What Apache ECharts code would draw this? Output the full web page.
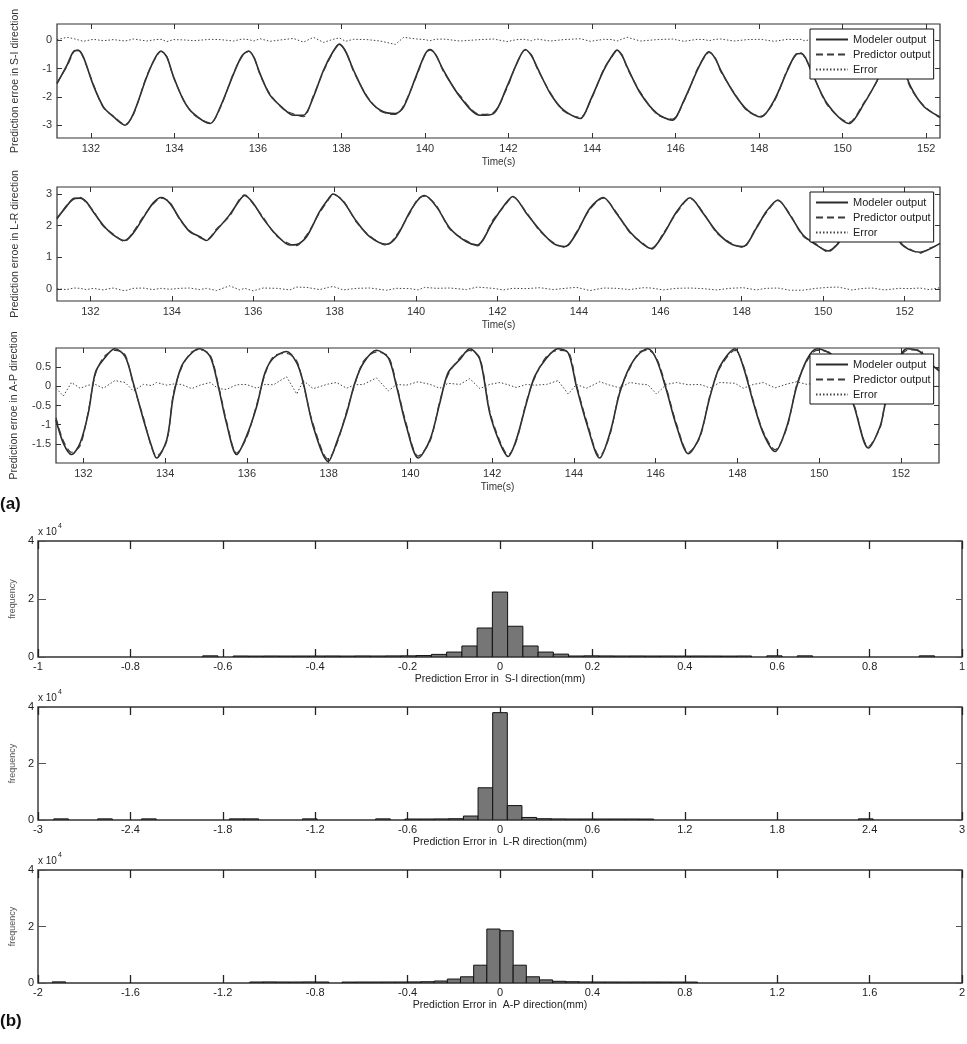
<!DOCTYPE html>
<html><head><meta charset="utf-8">
<script src="https://cdn.jsdelivr.net/npm/echarts@6/dist/echarts.min.js"></script>
<style>html,body{margin:0;padding:0;background:#fff}#c{width:967px;height:1044px}</style>
</head><body><div id="c"></div>
<script>
// ---------- Panel (a) data ----------
const seriesNames = ['Modeler output', 'Predictor output', 'Error'];
const timeTicks = [132,134,136,138,140,142,144,146,148,150,152];

const t1 = [131.19,131.43,131.6,131.7,131.82,132.06,132.3,132.54,132.82,133.02,
133.34,133.55,133.68,133.82,133.98,134.22,134.46,134.86,135.1,135.42,
135.62,135.78,135.9,136.05,136.29,136.61,136.85,137.09,137.33,137.57,
137.8,137.95,138.1,138.29,138.61,138.93,139.29,139.49,139.81,140.0,
140.12,140.25,140.44,140.84,141.32,141.64,141.96,142.2,142.4,142.55,
142.68,143.0,143.32,143.72,143.96,144.28,144.48,144.6,144.72,144.84,
145.16,145.56,145.92,146.2,146.52,146.7,146.8,146.95,147.08,147.4,
147.72,148.04,148.36,148.68,148.88,149.0,149.1,149.24,149.63,150.15,
150.51,150.87,151.1,151.23,151.38,151.63,151.95,152.33];
const modeler1 = [-1.53,-0.88,-0.38,-0.36,-0.59,-1.59,-2.35,-2.7,-3.0,-2.59,
-1.29,-0.6,-0.38,-0.6,-1.29,-2.12,-2.59,-2.94,-2.35,-1.18,
-0.55,-0.38,-0.6,-1.18,-1.94,-2.41,-2.65,-2.65,-2.0,-1.06,
-0.4,-0.14,-0.4,-1.06,-2.0,-2.47,-2.59,-2.35,-1.18,-0.5,
-0.33,-0.5,-1.06,-2.0,-2.65,-2.59,-1.65,-0.82,-0.33,-0.55,
-0.94,-1.88,-2.47,-2.76,-2.12,-1.06,-0.55,-0.35,-0.55,-0.94,
-1.88,-2.59,-2.82,-2.12,-1.06,-0.55,-0.41,-0.65,-1.06,-1.88,
-2.47,-2.71,-2.12,-1.06,-0.5,-0.47,-0.6,-1.06,-2.24,-2.94,
-2.24,-1.29,-0.5,-0.35,-0.7,-1.65,-2.35,-2.71];
const predictor1 = [-1.5,-0.92,-0.4,-0.35,-0.62,-1.55,-2.38,-2.68,-2.97,-2.62,
-1.25,-0.63,-0.4,-0.58,-1.32,-2.1,-2.62,-2.92,-2.38,-1.15,
-0.58,-0.4,-0.57,-1.22,-1.9,-2.44,-2.6,-2.7,-1.95,-1.1,
-0.43,-0.16,-0.38,-1.1,-1.97,-2.5,-2.62,-2.3,-1.22,-0.52,
-0.35,-0.48,-1.1,-1.96,-2.62,-2.55,-1.7,-0.8,-0.35,-0.52,
-0.98,-1.85,-2.5,-2.72,-2.16,-1.02,-0.58,-0.37,-0.52,-0.98,
-1.84,-2.62,-2.78,-2.16,-1.02,-0.58,-0.43,-0.62,-1.1,-1.85,
-2.5,-2.68,-2.16,-1.02,-0.53,-0.45,-0.63,-1.02,-2.28,-2.9,
-2.2,-1.33,-0.53,-0.37,-0.67,-1.7,-2.32,-2.74];
const error1 = [0.02,0.1,0.05,0.01,-0.04,0.03,-0.02,0.02,-0.03,0.04,
-0.03,0.02,0.03,-0.05,0.02,0.01,-0.02,0.03,0.02,-0.03,
0.04,0.02,-0.03,0.05,-0.04,0.02,0.06,-0.07,0.1,-0.08,
0.03,0.08,-0.04,0.03,0.02,-0.03,-0.15,0.1,0.04,0.02,
-0.02,0.03,0.04,-0.03,0.02,0.04,-0.05,0.02,0.03,-0.02,
0.04,-0.03,0.02,0.05,-0.04,0.03,0.02,-0.03,0.04,0.1,
-0.03,0.02,0.04,-0.04,0.03,0.02,-0.02,0.03,0.04,-0.03,
0.02,0.03,-0.04,0.03,0.02,0.03,-0.03,0.04,-0.04,0.03,
0.02,-0.03,0.04,0.02,-0.03,0.03,0.02,-0.02];

const t2 = [131.18,131.41,131.6,131.75,131.9,132.07,132.31,132.56,132.84,133.05,
133.29,133.54,133.74,133.95,134.19,134.44,134.69,134.85,135.1,135.42,
135.67,135.79,136.0,136.24,136.57,136.9,137.06,137.31,137.63,137.85,
137.96,138.21,138.54,138.86,139.27,139.52,139.85,140.05,140.21,140.5,
140.83,141.24,141.5,141.89,142.14,142.38,142.71,143.04,143.37,143.66,
143.94,144.27,144.6,144.92,145.25,145.58,145.78,146.07,146.4,146.73,
147.05,147.38,147.71,148.03,148.36,148.6,148.89,149.18,149.5,149.83,
150.12,150.37,150.7,151.0,151.2,151.5,151.88,152.1,152.38,152.6,
152.87];
const modeler2 = [2.23,2.6,2.86,2.87,2.75,2.44,2.02,1.71,1.53,1.76,
2.23,2.71,2.89,2.71,2.23,1.81,1.65,1.53,1.86,2.34,
2.81,2.95,2.71,2.23,1.71,1.39,1.4,1.65,2.44,2.85,
3.0,2.76,2.13,1.65,1.41,1.65,2.44,2.82,2.95,2.6,
1.92,1.49,1.39,2.13,2.6,2.92,2.39,1.86,1.44,1.34,
1.76,2.55,2.89,2.39,1.81,1.41,1.28,1.71,2.44,2.88,
2.39,1.81,1.44,1.34,1.92,2.44,2.81,2.34,1.71,1.39,
1.2,1.44,2.1,2.7,2.85,2.3,1.49,1.25,1.16,1.25,
1.44];
const predictor2 = [2.2,2.63,2.84,2.89,2.72,2.47,1.99,1.74,1.5,1.8,
2.27,2.68,2.87,2.74,2.2,1.84,1.62,1.56,1.9,2.3,
2.85,2.97,2.68,2.27,1.68,1.42,1.37,1.7,2.4,2.82,
2.98,2.79,2.1,1.68,1.38,1.7,2.4,2.85,2.93,2.63,
1.89,1.52,1.36,2.18,2.57,2.9,2.42,1.83,1.47,1.31,
1.8,2.51,2.87,2.42,1.78,1.44,1.25,1.75,2.4,2.86,
2.42,1.78,1.47,1.31,1.96,2.4,2.79,2.37,1.68,1.42,
1.17,1.48,2.06,2.73,2.83,2.33,1.46,1.28,1.13,1.28,
1.41];
const error2 = [0.01,-0.02,0.03,0.02,-0.02,0.02,-0.03,0.03,-0.06,0.02,
0.03,-0.02,0.02,-0.01,0.02,0.03,-0.02,0.02,-0.05,0.1,
-0.03,0.02,-0.06,0.03,0.02,-0.03,0.06,0.05,-0.02,0.05,
0.08,-0.03,0.02,0.03,-0.04,0.02,0.01,-0.03,0.05,0.02,
0.03,-0.02,0.06,0.02,-0.03,0.02,0.01,0.04,-0.02,0.02,
0.05,-0.05,0.03,0.02,-0.02,0.04,0.03,-0.03,0.02,0.03,
0.01,-0.03,0.02,0.04,-0.03,0.02,0.03,-0.04,-0.04,0.02,
0.05,0.06,-0.03,0.02,0.03,-0.03,0.02,0.01,0.03,-0.02,
0.04];

const t3 = [131.33,131.51,131.71,131.92,132.12,132.29,132.49,132.77,133.02,133.22,
133.47,133.67,133.79,134.04,134.2,134.4,134.65,134.85,135.1,135.3,
135.5,135.75,135.99,136.24,136.44,136.65,136.97,137.22,137.38,137.62,
137.99,138.19,138.44,138.64,138.85,139.17,139.46,139.66,139.9,140.19,
140.48,140.72,140.92,141.21,141.45,141.7,141.94,142.19,142.39,142.59,
142.84,143.04,143.33,143.61,143.86,144.06,144.31,144.63,144.88,145.12,
145.37,145.61,145.81,146.02,146.26,146.51,146.8,147.08,147.33,147.57,
147.94,148.14,148.39,148.63,148.92,149.21,149.45,149.7,149.94,150.35,
150.6,150.84,151.2,151.49,151.61,151.85,152.14,152.46,152.62,152.93];
const modeler3 = [-0.87,-1.48,-1.78,-1.48,-0.7,0.35,0.7,0.98,0.78,0.09,
-0.87,-1.57,-1.87,-1.39,-0.26,0.52,0.87,0.98,0.78,0.0,
-0.96,-1.78,-1.3,-0.52,0.35,0.74,0.91,0.61,0.09,-1.04,
-1.96,-1.48,-0.7,0.09,0.61,0.94,0.74,0.0,-1.04,-1.87,
-1.39,-0.43,0.35,0.7,0.98,0.7,-0.7,-1.48,-1.83,-1.39,
-0.43,0.26,0.74,0.98,0.87,0.0,-0.96,-1.87,-1.22,-0.17,
0.52,0.87,0.98,0.7,-0.09,-1.04,-1.76,-1.3,-0.26,0.52,
0.98,0.52,-0.43,-1.22,-1.7,-1.04,0.0,0.7,0.98,0.78,
0.1,-0.48,-1.61,-1.04,-0.48,0.4,0.98,0.91,0.7,0.4];
const predictor3 = [-0.82,-1.42,-1.72,-1.55,-0.65,0.3,0.75,0.94,0.82,0.05,
-0.82,-1.6,-1.82,-1.43,-0.2,0.48,0.9,0.95,0.82,0.05,
-0.9,-1.74,-1.35,-0.47,0.3,0.78,0.86,0.66,0.05,-0.98,
-1.9,-1.53,-0.65,0.05,0.65,0.9,0.78,0.05,-0.98,-1.82,
-1.43,-0.38,0.3,0.74,0.94,0.74,-0.64,-1.43,-1.79,-1.43,
-0.38,0.22,0.78,0.94,0.9,0.05,-0.9,-1.82,-1.27,-0.12,
0.48,0.9,0.94,0.74,-0.04,-0.98,-1.72,-1.34,-0.22,0.48,
0.94,0.56,-0.38,-1.18,-1.65,-1.08,0.04,0.66,0.94,0.82,
0.14,-0.44,-1.57,-1.08,-0.44,0.36,0.94,0.95,0.66,0.44];
const error3 = [-0.05,-0.25,0.1,-0.05,0.03,0.05,-0.05,0.15,0.1,-0.12,
0.05,0.02,0.1,0.03,0.06,0.05,-0.06,0.03,0.1,-0.06,
-0.08,0.04,0.05,-0.05,0.05,0.04,0.25,-0.2,0.15,-0.06,
0.06,0.1,-0.05,0.04,0.05,0.22,-0.12,0.05,0.03,0.12,
0.05,-0.05,0.08,0.05,0.2,-0.06,0.05,0.1,0.04,-0.03,
0.05,0.03,0.05,0.15,-0.2,0.05,-0.05,0.12,0.03,-0.04,
0.1,0.06,0.04,-0.2,0.05,0.1,0.04,0.05,-0.04,0.1,
0.08,-0.05,0.05,0.1,-0.04,0.06,0.12,0.05,0.1,0.03,
-0.05,0.04,0.05,0.06,0.03,0.05,0.1,0.03,-0.06,0.02];

const yTicks1 = [-3,-2,-1,0];
const yTicks2 = [0,1,2,3];
const yTicks3 = [-1.5,-1,-0.5,0,0.5];

// ---------- Panel (b) histogram data ----------
const h1Centers = [-0.627,-0.561,-0.528,-0.495,-0.462,-0.429,-0.396,-0.363,-0.33,-0.297,-0.264,-0.231,
-0.198,-0.165,-0.132,-0.099,-0.066,-0.033,0,0.033,0.066,0.099,0.132,0.165,0.198,
0.231,0.264,0.297,0.33,0.363,0.396,0.429,0.462,0.495,0.528,0.594,0.66,0.924];
const h1Counts = [400,350,320,350,330,340,350,360,330,370,350,380,
400,500,900,1700,3800,10000,22400,10600,3800,1700,1000,350,400,
370,350,360,340,350,330,350,340,320,350,400,400,400];
const h1BinWidth = 0.033;

const h2Centers = [-2.85,-2.565,-2.28,-1.71,-1.615,-1.235,-0.76,
-0.57,-0.475,-0.38,-0.285,-0.19,-0.095,0,0.095,0.19,0.285,0.38,0.475,0.57,0.665,0.76,0.855,0.95,2.375];
const h2Counts = [400,400,400,400,400,400,400,
350,350,380,450,1400,11400,38000,5100,900,450,380,350,350,350,350,350,330,400];
const h2BinWidth = 0.095;

const h3Centers = [-1.9095,-1.0545,-0.9975,-0.9405,-0.8835,-0.8265,-0.7695,
-0.6555,-0.5985,-0.5415,-0.4845,-0.4275,-0.3705,-0.3135,-0.2565,-0.1995,-0.1425,-0.0855,-0.0285,
0.0285,0.0855,0.1425,0.1995,0.2565,0.3135,0.3705,0.4275,0.4845,0.5415,0.5985,0.6555,0.7125,0.7695,0.8265];
const h3Counts = [400,350,380,350,350,380,350,
330,350,350,360,360,380,450,700,1400,2200,6300,19100,
18500,6300,2200,1100,600,450,380,360,360,350,350,350,350,340,330];
const h3BinWidth = 0.057;

const freqTicks = [0,20000,40000];

// ---------- build ----------
const font = "'Liberation Sans', Arial, sans-serif";
const narrow = "'Liberation Sans Narrow', 'Arial Narrow', 'Liberation Sans', sans-serif";
const ink = '#2a2a2a';

const grids = [], xAxes = [], yAxes = [], series = [], legends = [];

function addPanel(g, xr, yr, yTicks, yName, t, m, p, e, legendTop) {
  const gi = grids.length;
  grids.push(Object.assign({show:true, borderColor:'#333', borderWidth:1.2, backgroundColor:'#fff',
    outerBoundsMode:'none', containLabel:false}, g));
  const tickBase = {inside:true, length:5, lineStyle:{color:'#333', width:1}};
  const xi = xAxes.length;
  xAxes.push({gridIndex:gi, type:'value', min:xr[0], max:xr[1], position:'bottom',
    axisLine:{show:false, onZero:false}, splitLine:{show:false},
    axisTick:Object.assign({customValues:timeTicks}, tickBase),
    axisLabel:{customValues:timeTicks, margin:5, fontSize:11, color:'#333', fontFamily:font},
    name:'Time(s)', nameLocation:'middle', nameGap:19, nameTextStyle:{fontSize:10, color:'#333', fontFamily:font}});
  xAxes.push({gridIndex:gi, type:'value', min:xr[0], max:xr[1], position:'top',
    axisLine:{show:false, onZero:false}, splitLine:{show:false},
    axisTick:Object.assign({customValues:timeTicks}, tickBase), axisLabel:{show:false}});
  const yi = yAxes.length;
  yAxes.push({gridIndex:gi, type:'value', min:yr[0], max:yr[1], position:'left',
    axisLine:{show:false, onZero:false}, splitLine:{show:false},
    axisTick:Object.assign({customValues:yTicks}, tickBase),
    axisLabel:{customValues:yTicks, margin:5, fontSize:11, color:'#333', fontFamily:font},
    name:yName, nameLocation:'middle', nameRotate:90, nameGap:36,
    nameTextStyle:{fontSize:10.5, color:'#333', fontFamily:font}});
  yAxes.push({gridIndex:gi, type:'value', min:yr[0], max:yr[1], position:'right',
    axisLine:{show:false, onZero:false}, splitLine:{show:false},
    axisTick:Object.assign({customValues:yTicks}, tickBase), axisLabel:{show:false}});
  const mk = (arr) => t.map((x, i) => [x, arr[i]]);
  series.push({name:seriesNames[0], type:'line', xAxisIndex:xi, yAxisIndex:yi, data:mk(m),
    symbol:'none', smooth:0.3, lineStyle:{color:ink, width:1.6, type:'solid'}, itemStyle:{color:ink}, z:3});
  series.push({name:seriesNames[1], type:'line', xAxisIndex:xi, yAxisIndex:yi, data:mk(p),
    symbol:'none', smooth:0.3, lineStyle:{color:'#3a3a3a', width:1.2, type:[7,4]}, itemStyle:{color:'#3a3a3a'}, z:3});
  series.push({name:seriesNames[2], type:'line', xAxisIndex:xi, yAxisIndex:yi, data:mk(e),
    symbol:'none', lineStyle:{color:'#444', width:1, type:[1.5,2]}, itemStyle:{color:'#444'}, z:3});
  legends.push({left:810, top:legendTop, orient:'vertical', data:seriesNames, selectedMode:false,
    itemWidth:32, itemHeight:11, itemGap:4, padding:[5,3,4,5], borderColor:'#111', borderWidth:1,
    backgroundColor:'#fff', borderRadius:0, z:10,
    itemStyle:{opacity:0},
    textStyle:{fontSize:11, color:'#222', fontFamily:font}});
}

function addHist(g, xr, interval, xName, centers, counts, binW) {
  const gi = grids.length;
  grids.push(Object.assign({show:true, borderColor:'#333', borderWidth:1.4, backgroundColor:'#fff',
    outerBoundsMode:'none', containLabel:false}, g));
  const tickBase = {inside:true, length:8, lineStyle:{color:'#222', width:1.3}};
  const xi = xAxes.length;
  xAxes.push({gridIndex:gi, type:'value', min:xr[0], max:xr[1], interval:interval, position:'bottom',
    axisLine:{show:false, onZero:false}, splitLine:{show:false}, axisTick:tickBase,
    axisLabel:{margin:4, fontSize:11, color:'#222', fontFamily:narrow, showMinLabel:true, showMaxLabel:true},
    name:xName, nameLocation:'middle', nameGap:17, nameTextStyle:{fontSize:10.5, color:'#222', fontFamily:narrow}});
  xAxes.push({gridIndex:gi, type:'value', min:xr[0], max:xr[1], interval:interval, position:'top',
    axisLine:{show:false, onZero:false}, splitLine:{show:false}, axisTick:tickBase, axisLabel:{show:false}});
  const yi = yAxes.length;
  yAxes.push({gridIndex:gi, type:'value', min:0, max:40000, position:'left',
    axisLine:{show:false, onZero:false}, splitLine:{show:false},
    axisTick:{customValues:freqTicks, inside:true, length:8, lineStyle:{color:'#555'}},
    axisLabel:{customValues:freqTicks, margin:4, fontSize:11, color:'#222', fontFamily:narrow,
      formatter:(v) => String(v / 10000)},
    name:'frequency', nameLocation:'middle', nameRotate:90, nameGap:16,
    nameTextStyle:{fontSize:9, color:'#555', fontFamily:font}});
  yAxes.push({gridIndex:gi, type:'value', min:0, max:40000, position:'right',
    axisLine:{show:false, onZero:false}, splitLine:{show:false},
    axisTick:{customValues:freqTicks, inside:true, length:6, lineStyle:{color:'#555'}}, axisLabel:{show:false}});
  series.push({type:'custom', xAxisIndex:xi, yAxisIndex:yi, clip:true,
    data:centers.map((c, i) => [c, counts[i]]),
    renderItem:(params, api) => {
      const x = api.value(0), y = api.value(1);
      const a = api.coord([x - binW / 2, y]);
      const b = api.coord([x + binW / 2, 0]);
      return {type:'rect', shape:{x:a[0], y:a[1], width:b[0] - a[0], height:b[1] - a[1]},
        style:{fill:'#767676', stroke:'#111', lineWidth:1}};
    }, z:3});
}

addPanel({left:57, top:24, width:883, height:114}, [131.19, 152.33], [-3.45, 0.57], yTicks1,
  'Prediction erroe in S-I direction', t1, modeler1, predictor1, error1, 29);
addPanel({left:57, top:187, width:883, height:114}, [131.18, 152.87], [-0.38, 3.22], yTicks2,
  'Prediction erroe in L-R direction', t2, modeler2, predictor2, error2, 192);
addPanel({left:56, top:348, width:883, height:115}, [131.33, 152.93], [-2, 1], yTicks3,
  'Prediction erroe in A-P direction', t3, modeler3, predictor3, error3, 354);

addHist({left:38, top:541, width:924, height:116}, [-1, 1], 0.2,
  'Prediction Error in  S-I direction(mm)', h1Centers, h1Counts, h1BinWidth);
addHist({left:38, top:707, width:924, height:113}, [-3, 3], 0.6,
  'Prediction Error in  L-R direction(mm)', h2Centers, h2Counts, h2BinWidth);
addHist({left:38, top:870, width:924, height:113}, [-2, 2], 0.4,
  'Prediction Error in  A-P direction(mm)', h3Centers, h3Counts, h3BinWidth);

const graphics = [
  {type:'text', left:0, top:496, style:{text:'(a)', font:"bold 17px 'Liberation Sans', Arial", fill:'#111'}},
  {type:'text', left:0, top:1013, style:{text:'(b)', font:"bold 17px 'Liberation Sans', Arial", fill:'#111'}}
];
[541, 707, 870].forEach(top => {
  graphics.push({type:'text', left:38, top:top - 14, style:{text:'x 10', font:"10px " + narrow, fill:'#222'}});
  graphics.push({type:'text', left:58, top:top - 18, style:{text:'4', font:"7px " + narrow, fill:'#222'}});
});

const chart = echarts.init(document.getElementById('c'), null, {renderer:'canvas'});
chart.setOption({
  animation:false,
  backgroundColor:'#fff',
  grid:grids, xAxis:xAxes, yAxis:yAxes, series:series, legend:legends, graphic:graphics
});
</script></body></html>
